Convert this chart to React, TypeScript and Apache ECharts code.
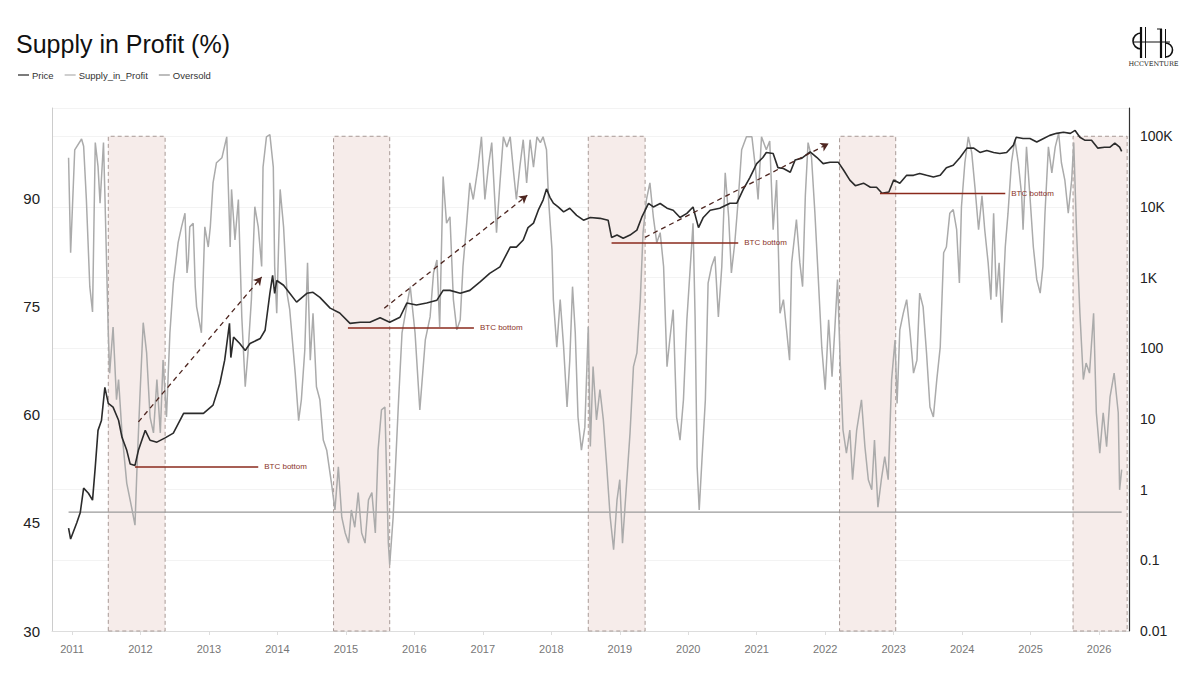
import React, { useEffect, useRef } from "react";
import * as echarts from "echarts";

const FONT = "'Liberation Sans', Arial, Helvetica, sans-serif";

const yearTicks = [2011, 2012, 2013, 2014, 2015, 2016, 2017, 2018, 2019, 2020, 2021, 2022, 2023, 2024, 2025, 2026];

// [decimal year, % of supply in profit]
const supplyInProfit: [number, number][] = [
  [2010.95,95.7],[2010.98,82.5],[2011.04,96.8],[2011.14,98.3],[2011.17,97.3],[2011.21,89.9],[2011.26,77.8],[2011.30,74.3],[2011.34,97.8],[2011.38,94.5],[2011.41,89.4],[2011.46,97.8],[2011.48,90.8],[2011.53,71.4],[2011.55,65.8],[2011.60,72.2],[2011.65,62.1],[2011.68,64.9],[2011.73,57.5],[2011.80,50.5],[2011.87,47.2],[2011.92,44.7],[2011.95,52.8],[2011.99,62.1],[2012.04,72.8],[2012.09,68.6],[2012.14,59.7],[2012.19,57.5],[2012.24,64.9],[2012.29,57.5],[2012.33,67.6],[2012.38,59.7],[2012.43,71.4],[2012.48,78.3],[2012.55,83.9],[2012.60,86.1],[2012.65,88.0],[2012.68,79.7],[2012.70,81.5],[2012.72,86.1],[2012.77,86.6],[2012.80,77.8],[2012.82,75.0],[2012.89,71.4],[2012.94,86.1],[2012.99,83.3],[2013.02,86.1],[2013.06,92.2],[2013.11,95.0],[2013.19,95.7],[2013.26,98.6],[2013.28,92.6],[2013.31,83.3],[2013.33,91.3],[2013.38,84.3],[2013.43,89.9],[2013.48,73.6],[2013.53,63.9],[2013.57,68.6],[2013.62,76.0],[2013.67,88.9],[2013.72,86.1],[2013.77,80.6],[2013.79,94.4],[2013.84,98.6],[2013.89,98.9],[2013.94,94.4],[2013.96,80.6],[2013.99,74.1],[2014.04,91.3],[2014.09,86.1],[2014.14,76.9],[2014.18,74.6],[2014.26,65.8],[2014.31,59.2],[2014.35,62.1],[2014.40,69.0],[2014.44,81.1],[2014.48,67.6],[2014.52,74.1],[2014.57,63.9],[2014.62,62.1],[2014.67,56.5],[2014.72,55.1],[2014.79,50.5],[2014.84,46.8],[2014.89,52.8],[2014.94,45.8],[2014.99,43.6],[2015.04,42.2],[2015.08,46.8],[2015.13,44.4],[2015.18,49.2],[2015.23,43.6],[2015.28,42.2],[2015.33,48.2],[2015.38,49.2],[2015.43,43.6],[2015.47,55.1],[2015.52,60.7],[2015.57,61.1],[2015.62,42.2],[2015.64,39.2],[2015.69,45.8],[2015.77,62.1],[2015.82,71.4],[2015.86,73.6],[2015.94,77.8],[2016.01,71.4],[2016.08,60.7],[2016.16,70.4],[2016.23,73.6],[2016.28,79.7],[2016.33,81.5],[2016.37,72.2],[2016.42,93.1],[2016.47,86.6],[2016.52,87.5],[2016.57,76.0],[2016.62,71.8],[2016.67,73.2],[2016.71,80.6],[2016.76,86.1],[2016.81,92.2],[2016.86,89.9],[2016.93,94.4],[2016.98,98.6],[2017.03,89.9],[2017.08,94.4],[2017.13,97.8],[2017.20,85.3],[2017.25,92.2],[2017.30,98.6],[2017.35,97.2],[2017.40,98.6],[2017.45,93.6],[2017.49,89.9],[2017.54,94.4],[2017.59,98.2],[2017.64,92.2],[2017.69,98.2],[2017.74,94.4],[2017.79,98.6],[2017.84,97.8],[2017.88,98.6],[2017.93,96.8],[2017.96,89.9],[2018.01,82.9],[2018.03,76.0],[2018.08,69.4],[2018.13,76.0],[2018.18,69.4],[2018.23,61.1],[2018.27,67.6],[2018.31,77.8],[2018.35,71.4],[2018.39,59.7],[2018.44,55.1],[2018.49,58.3],[2018.54,72.2],[2018.57,55.6],[2018.61,66.7],[2018.66,59.3],[2018.71,63.5],[2018.76,59.3],[2018.81,52.8],[2018.86,45.8],[2018.91,41.3],[2018.96,48.2],[2019.00,51.0],[2019.04,42.2],[2019.10,50.5],[2019.15,57.5],[2019.20,66.7],[2019.25,68.6],[2019.30,76.0],[2019.34,85.3],[2019.39,89.9],[2019.44,92.2],[2019.49,87.5],[2019.54,83.9],[2019.59,85.3],[2019.64,80.6],[2019.69,66.7],[2019.73,70.4],[2019.78,74.6],[2019.83,59.7],[2019.88,56.5],[2019.93,62.1],[2019.98,73.2],[2020.03,80.6],[2020.07,86.6],[2020.10,73.6],[2020.13,52.8],[2020.16,46.8],[2020.20,53.7],[2020.25,62.1],[2020.29,78.3],[2020.34,80.6],[2020.39,82.0],[2020.44,73.6],[2020.49,80.6],[2020.54,93.6],[2020.59,87.5],[2020.63,79.7],[2020.68,83.9],[2020.73,89.9],[2020.78,96.8],[2020.85,98.6],[2020.93,98.6],[2020.98,94.4],[2021.02,89.9],[2021.07,98.6],[2021.14,96.8],[2021.19,98.0],[2021.24,85.7],[2021.29,92.6],[2021.34,74.1],[2021.39,76.0],[2021.44,71.4],[2021.48,67.6],[2021.51,81.1],[2021.58,87.1],[2021.63,81.1],[2021.67,77.8],[2021.71,90.4],[2021.75,97.8],[2021.80,95.8],[2021.85,88.0],[2021.90,78.8],[2021.95,69.4],[2022.00,63.5],[2022.05,73.2],[2022.10,65.3],[2022.14,71.8],[2022.18,78.8],[2022.22,67.2],[2022.26,57.9],[2022.31,54.7],[2022.36,57.9],[2022.40,51.0],[2022.46,57.9],[2022.53,62.1],[2022.58,55.6],[2022.63,51.0],[2022.68,49.6],[2022.72,56.5],[2022.77,47.2],[2022.82,51.0],[2022.87,54.2],[2022.92,51.0],[2022.97,64.9],[2023.02,70.4],[2023.05,61.6],[2023.09,71.8],[2023.14,74.1],[2023.19,76.0],[2023.24,71.4],[2023.29,65.8],[2023.34,67.6],[2023.38,76.9],[2023.43,75.0],[2023.48,68.6],[2023.53,61.1],[2023.58,59.7],[2023.63,64.9],[2023.68,69.4],[2023.73,82.5],[2023.77,83.3],[2023.82,88.0],[2023.87,88.5],[2023.92,85.7],[2023.96,78.3],[2023.99,88.9],[2024.04,95.0],[2024.09,98.6],[2024.14,96.4],[2024.19,91.3],[2024.24,85.7],[2024.29,90.4],[2024.33,85.7],[2024.38,81.1],[2024.42,76.0],[2024.46,88.0],[2024.50,76.4],[2024.54,81.1],[2024.58,72.8],[2024.63,83.3],[2024.67,88.0],[2024.72,95.0],[2024.77,98.2],[2024.82,95.0],[2024.87,90.4],[2024.89,85.7],[2024.94,97.2],[2024.99,90.4],[2025.04,83.3],[2025.09,78.8],[2025.14,76.9],[2025.18,80.6],[2025.21,88.0],[2025.26,97.2],[2025.31,93.6],[2025.36,97.2],[2025.41,99.1],[2025.45,95.0],[2025.50,92.6],[2025.55,88.0],[2025.60,92.6],[2025.63,97.8],[2025.67,85.7],[2025.72,74.1],[2025.77,64.9],[2025.81,67.2],[2025.86,65.8],[2025.92,74.1],[2025.96,60.3],[2026.01,54.7],[2026.06,60.3],[2026.11,55.6],[2026.16,62.5],[2026.22,65.8],[2026.28,60.3],[2026.30,49.6],[2026.33,52.4]
];

// [decimal year, BTC price USD]
const btcPrice: [number, number][] = [
  [2010.95,0.285],[2010.98,0.2],[2011.07,0.34],[2011.12,0.47],[2011.17,1.05],[2011.24,0.89],[2011.30,0.71],[2011.34,2.1],[2011.38,6.9],[2011.43,9.5],[2011.48,28],[2011.53,16.6],[2011.60,14.7],[2011.68,9.6],[2011.73,5.5],[2011.80,3.6],[2011.85,2.3],[2011.92,2.2],[2011.97,3.6],[2012.07,6.9],[2012.14,5.0],[2012.24,4.7],[2012.36,5.4],[2012.48,6.3],[2012.63,12],[2012.77,12],[2012.92,12],[2013.06,15.7],[2013.16,32],[2013.23,68],[2013.30,225],[2013.32,74],[2013.36,144],[2013.45,117],[2013.53,93],[2013.60,117],[2013.75,138],[2013.82,180],[2013.89,600],[2013.93,1080],[2013.96,600],[2013.99,910],[2014.09,780],[2014.18,600],[2014.28,450],[2014.43,600],[2014.52,620],[2014.62,525],[2014.77,370],[2014.91,316],[2015.06,225],[2015.21,234],[2015.35,234],[2015.50,270],[2015.64,234],[2015.79,275],[2015.89,437],[2016.03,410],[2016.18,437],[2016.33,480],[2016.42,660],[2016.52,660],[2016.67,600],[2016.81,660],[2016.96,870],[2017.10,1150],[2017.25,1420],[2017.40,2700],[2017.49,2700],[2017.59,3400],[2017.66,5100],[2017.74,5900],[2017.81,9000],[2017.88,12500],[2017.93,18000],[2017.98,13700],[2018.03,11300],[2018.10,10000],[2018.18,8500],[2018.27,9600],[2018.37,7600],[2018.47,6500],[2018.57,7100],[2018.71,6900],[2018.83,6500],[2018.88,3700],[2018.96,4000],[2019.05,3600],[2019.15,4000],[2019.25,4700],[2019.32,7100],[2019.42,11200],[2019.49,10000],[2019.59,11200],[2019.69,9600],[2019.78,9000],[2019.88,7100],[2019.98,8100],[2020.07,10000],[2020.15,5100],[2020.22,7100],[2020.32,9000],[2020.46,9600],[2020.61,11300],[2020.71,11300],[2020.80,17400],[2020.90,26000],[2021.00,41000],[2021.09,50000],[2021.14,59000],[2021.24,57000],[2021.31,36000],[2021.39,35000],[2021.49,31000],[2021.56,46000],[2021.66,49000],[2021.78,60000],[2021.88,50000],[2021.97,41000],[2022.07,43000],[2022.19,43000],[2022.27,33000],[2022.36,24000],[2022.44,20000],[2022.56,21700],[2022.66,19000],[2022.75,19000],[2022.83,15600],[2022.93,16300],[2023.00,24000],[2023.09,21700],[2023.19,28000],[2023.29,28000],[2023.38,29700],[2023.48,28000],[2023.58,26500],[2023.68,28000],[2023.77,36000],[2023.87,39000],[2023.97,50000],[2024.07,68000],[2024.17,68000],[2024.26,59000],[2024.36,63000],[2024.46,59000],[2024.55,57000],[2024.65,59000],[2024.75,75000],[2024.79,97000],[2024.89,93000],[2024.99,93000],[2025.09,83000],[2025.19,93000],[2025.28,103000],[2025.38,110000],[2025.48,114000],[2025.58,110000],[2025.65,121000],[2025.72,97000],[2025.79,88000],[2025.89,88000],[2025.98,68000],[2026.08,70000],[2026.16,70000],[2026.23,80000],[2026.30,70000],[2026.33,61000]
];

const oversoldLevel = 46.5;
const oversoldSpan = [2010.95, 2026.33];

// shaded oversold zones [start year, end year]
const oversoldZones: [number, number][] = [
  [2011.53, 2012.36], [2014.82, 2015.64], [2018.54, 2019.37], [2022.21, 2023.03], [2025.62, 2026.41]
];
const zoneTop = 100000;
const zoneBottom = 0.01;

// trend arrows [[year, price] start, [year, price] end]
const trendArrows: [[number, number], [number, number]][] = [
  [[2011.97, 9.1], [2013.77, 1020]],
  [[2015.56, 369], [2017.65, 14600]],
  [[2019.37, 3720], [2022.05, 78800]],
  [[2023.09, 19200], [2025.70, 380000]]
];

// BTC bottom markers [start year, end year, price]
const btcBottoms: [number, number, number][] = [
  [2011.92, 2013.72, 2.1], [2015.03, 2016.87, 194.5], [2018.88, 2020.73, 3100], [2022.80, 2024.63, 15500]
];

const xMin = 2010.708;
const xMax = 2026.437;

function fmtPrice(v: number) {
  const n = Number(v.toPrecision(3));
  if (n >= 1000) return n / 1000 + "K";
  return String(n);
}

export default function App() {
  const ref = useRef<HTMLDivElement>(null);
  useEffect(() => {
    if (!ref.current) return;
    const chart = echarts.init(ref.current, null, { renderer: "svg" });

    const bottomColor = "#8a2a1c";
    const arrowLines: any[] = trendArrows.map(([s, e]) => [
      { coord: s, symbol: "none" },
      { coord: e, symbol: "arrow", symbolSize: [7, 8] }
    ]);

    const bottomSeries = btcBottoms.map(([a, b, p], i) => ({
      name: "bottom" + i,
      type: "line",
      yAxisIndex: 1,
      data: [[a, p], [b, p]],
      showSymbol: false,
      symbol: "none",
      color: bottomColor,
      lineStyle: { width: 1.5, color: bottomColor },
      z: 5,
      silent: true,
      endLabel: {
        show: true,
        formatter: "BTC bottom",
        fontSize: 8,
        color: "#8a3328",
        fontFamily: FONT,
        distance: 6
      }
    }));

    const option: any = {
      animation: false,
      backgroundColor: "#ffffff",
      title: {
        text: "Supply in Profit (%)",
        left: 11,
        top: 26,
        textStyle: { fontSize: 25, fontWeight: "normal", color: "#111", fontFamily: FONT }
      },
      legend: {
        left: 13,
        top: 65,
        icon: "rect",
        itemWidth: 11,
        itemHeight: 1.3,
        itemGap: 11,
        textStyle: { fontSize: 9.5, color: "#333", fontFamily: FONT, padding: [0, 0, 0, -2] },
        data: ["Price", "Supply_in_Profit", "Oversold"]
      },
      grid: { left: 52, right: 71, top: 108, bottom: 44, containLabel: false },
      xAxis: {
        type: "value",
        min: xMin,
        max: xMax,
        axisLine: { show: true, lineStyle: { color: "#dddddd" } },
        axisTick: { show: true, customValues: yearTicks, length: 4, lineStyle: { color: "#dddddd" } },
        axisLabel: {
          customValues: yearTicks,
          formatter: (v: number) => String(Math.round(v)),
          color: "#777",
          fontSize: 11,
          margin: 12,
          fontFamily: FONT
        },
        splitLine: { show: false }
      },
      yAxis: [
        {
          type: "value",
          min: 30,
          max: 102.6,
          interval: 15,
          position: "left",
          axisLine: { show: true, lineStyle: { color: "#cccccc" } },
          axisTick: { show: false },
          axisLabel: { color: "#222", fontSize: 15, margin: 12, showMaxLabel: false, fontFamily: FONT },
          splitLine: { show: false }
        },
        {
          type: "log",
          logBase: 10,
          min: 0.01,
          max: 251189,
          position: "right",
          axisLine: { show: true, lineStyle: { color: "#333333", width: 1.2 } },
          axisTick: { show: false },
          axisLabel: { color: "#222", fontSize: 14, margin: 11, showMaxLabel: false, formatter: fmtPrice, fontFamily: FONT },
          splitLine: { show: true, lineStyle: { color: "#f3f3f3", width: 1 } }
        }
      ],
      series: [
        {
          name: "Oversold",
          type: "line",
          yAxisIndex: 0,
          data: oversoldSpan.map((x) => [x, oversoldLevel]),
          showSymbol: false,
          symbol: "none",
          color: "#9a9a9a",
          lineStyle: { width: 1.1, color: "#9a9a9a" },
          z: 2,
          silent: true
        },
        {
          name: "Supply_in_Profit",
          type: "line",
          yAxisIndex: 0,
          data: supplyInProfit,
          showSymbol: false,
          symbol: "none",
          color: "#b5b5b5",
          lineStyle: { width: 1.5, color: "#ababab" },
          z: 3,
          silent: true
        },
        {
          name: "Price",
          type: "line",
          yAxisIndex: 1,
          data: btcPrice,
          showSymbol: false,
          symbol: "none",
          color: "#333333",
          lineStyle: { width: 1.6, color: "#2b2b2b" },
          z: 4,
          clip: false,
          silent: true,
          markArea: {
            silent: true,
            z: 1,
            itemStyle: { color: "#f6ecea", borderColor: "#a89a96", borderWidth: 1, borderType: [4, 3] },
            label: { show: false },
            data: oversoldZones.map(([a, b]) => [
              { xAxis: a, yAxis: zoneBottom },
              { xAxis: b, yAxis: zoneTop }
            ])
          },
          markLine: {
            silent: true,
            symbol: ["none", "arrow"],
            precision: 4,
            lineStyle: { color: "#4e2620", type: [5, 4], width: 1.3 },
            itemStyle: { color: "#7a1f14" },
            label: { show: false },
            emphasis: { disabled: true },
            data: arrowLines
          }
        },
        ...bottomSeries
      ],
      graphic: [
        { type: "arc", shape: { cx: 1141, cy: 41, r: 8, startAngle: Math.PI / 2, endAngle: (3 * Math.PI) / 2 }, style: { stroke: "#111", lineWidth: 1.6, fill: null } },
        { type: "line", shape: { x1: 1141, y1: 27, x2: 1141, y2: 58 }, style: { stroke: "#111", lineWidth: 2.2 } },
        { type: "line", shape: { x1: 1145.5, y1: 27, x2: 1145.5, y2: 58 }, style: { stroke: "#111", lineWidth: 1 } },
        { type: "line", shape: { x1: 1134, y1: 42, x2: 1170, y2: 42 }, style: { stroke: "#111", lineWidth: 1.2 } },
        { type: "line", shape: { x1: 1161, y1: 29, x2: 1161, y2: 58 }, style: { stroke: "#111", lineWidth: 2.2 } },
        { type: "line", shape: { x1: 1165.5, y1: 29, x2: 1165.5, y2: 58 }, style: { stroke: "#111", lineWidth: 1 } },
        { type: "line", shape: { x1: 1157, y1: 29, x2: 1162, y2: 29 }, style: { stroke: "#111", lineWidth: 1 } },
        { type: "arc", shape: { cx: 1165.5, cy: 50, r: 7, startAngle: -Math.PI / 2, endAngle: Math.PI / 2 }, style: { stroke: "#111", lineWidth: 1.6, fill: null } },
        { type: "text", x: 1153.5, y: 60, style: { text: "HCCVENTURE", fontSize: 6.5, fontFamily: "'DejaVu Serif', 'Liberation Serif', serif", fill: "#222", align: "center", verticalAlign: "top" } }
      ]
    };

    chart.setOption(option);
    return () => chart.dispose();
  }, []);

  return <div ref={ref} style={{ position: "fixed", left: 0, top: 0, width: 1200, height: 675, background: "#fff" }} />;
}
